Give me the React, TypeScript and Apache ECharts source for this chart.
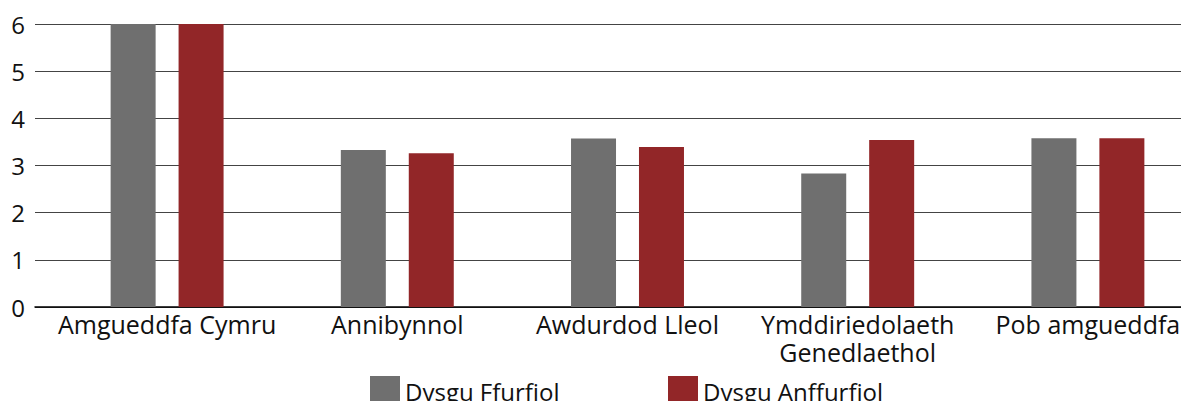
import React, { useEffect, useRef } from "react";
import * as echarts from "echarts";

const categories = ["Amgueddfa Cymru", "Annibynnol", "Awdurdod Lleol", "Ymddiriedolaeth\nGenedlaethol", "Pob amgueddfa"];
const ffurfiol = [6, 3.33, 3.57, 2.83, 3.58];
const anffurfiol = [6, 3.26, 3.39, 3.54, 3.58];
const yTicks = [0, 1, 2, 3, 4, 5, 6];

const FONT = "Open Sans";
const CHART_W = 1210;

export default function App() {
  const ref = useRef<HTMLDivElement>(null);
  useEffect(() => {
    const chart = echarts.init(ref.current!, null, { renderer: "svg" });
    chart.setOption({
      animation: false,
      textStyle: { fontFamily: FONT },
      grid: [
        { left: 35, right: CHART_W - 1181, top: 24, height: 283 },
        { left: 52, width: 1151, top: 24, height: 283 },
      ],
      xAxis: [
        {
          gridIndex: 0,
          type: "category",
          data: [""],
          axisLine: { show: true, lineStyle: { color: "#000", width: 1.5 } },
          axisTick: { show: false },
          axisLabel: { show: false },
        },
        {
          gridIndex: 1,
          type: "category",
          data: categories,
          axisLine: { show: false },
          axisTick: { show: false },
          axisLabel: { color: "#111", fontSize: 25, fontFamily: FONT, margin: 3, lineHeight: 28, interval: 0 },
        },
      ],
      yAxis: [
        {
          gridIndex: 0,
          type: "value",
          min: yTicks[0],
          max: yTicks[yTicks.length - 1],
          interval: 1,
          axisLine: { show: false },
          axisTick: { show: false },
          axisLabel: { color: "#111", fontSize: 24, fontFamily: FONT, margin: 10 },
          splitLine: { lineStyle: { color: "#444", width: 1 } },
        },
        {
          gridIndex: 1,
          type: "value",
          min: 0,
          max: 6,
          interval: 1,
          show: false,
          splitLine: { show: false },
        },
      ],
      legend: [
        {
          data: ["Dysgu Ffurfiol"],
          left: 365,
          top: 371,
          itemWidth: 30,
          itemHeight: 30,
          itemGap: 8,
          icon: "rect",
          textStyle: { fontSize: 24, color: "#111", fontFamily: FONT },
        },
        {
          data: ["Dysgu Anffurfiol"],
          left: 663,
          top: 371,
          itemWidth: 30,
          itemHeight: 30,
          itemGap: 8,
          icon: "rect",
          textStyle: { fontSize: 24, color: "#111", fontFamily: FONT },
        },
      ],
      series: [
        {
          name: "Dysgu Ffurfiol",
          type: "bar",
          xAxisIndex: 1,
          yAxisIndex: 1,
          data: ffurfiol,
          barWidth: 45,
          barGap: "51%",
          itemStyle: { color: "#6f6f6f" },
        },
        {
          name: "Dysgu Anffurfiol",
          type: "bar",
          xAxisIndex: 1,
          yAxisIndex: 1,
          data: anffurfiol,
          barWidth: 45,
          barGap: "51%",
          itemStyle: { color: "#922628" },
        },
      ],
    });
    return () => chart.dispose();
  }, []);
  return (
    <div style={{ position: "absolute", left: 0, top: 0, width: 1181, height: 401, overflow: "hidden" }}>
      <div ref={ref} style={{ width: CHART_W, height: 401 }} />
    </div>
  );
}
